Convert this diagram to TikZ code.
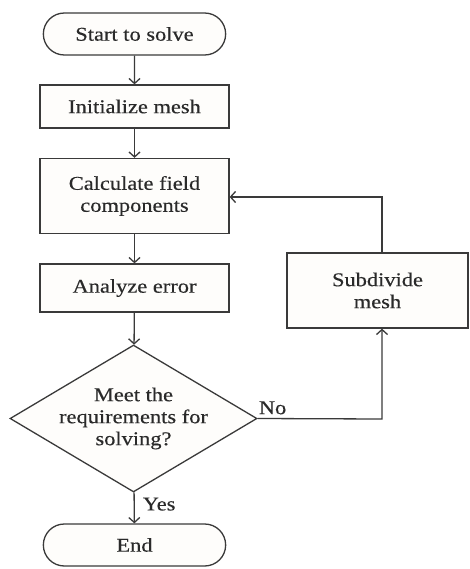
\documentclass[tikz,border=0pt]{standalone}
\usepackage{fontspec}
\setmainfont{Liberation Serif}[FakeStretch=1.15,FakeBold=0.35]
\usetikzlibrary{shapes.geometric,shapes.misc,arrows.meta}
\definecolor{ln}{HTML}{3A3A3A}
\definecolor{bx}{HTML}{FEFDFB}
\definecolor{tx}{HTML}{2A2A2A}
\begin{document}
\begin{tikzpicture}[x=1pt,y=-1pt,
  fnt/.style={font=\fontsize{19.5}{22}\selectfont,text=tx},
  base/.style={draw=ln,line width=1.3pt,fill=bx,fnt,align=center},
  proc/.style={base,rectangle,minimum width=189pt},
  term/.style={base,rounded rectangle,minimum width=189pt,minimum height=42pt},
  dec/.style={base,diamond,minimum width=247pt,minimum height=147pt,inner sep=0pt},
  arr/.style={draw=ln,line width=1.3pt,-{Straight Barb[length=5pt,width=11pt]}},
  lab/.style={fnt}]
\useasboundingbox (0,0) rectangle (469,569);
\node[term] (start) at (134.5,34) {Start to solve};
\node[proc,minimum height=43pt] (init) at (134.5,106.5) {Initialize mesh};
\node[proc,minimum height=75pt] (calc) at (134.5,196) {Calculate field\\components};
\node[proc,minimum height=48pt] (anal) at (134.5,288) {Analyze error};
\node[dec,label={[fnt,align=center]center:Meet the\\requirements for\\solving?}] (dec) at (133.5,418.5) {};
\node[term] (end) at (134.5,545) {End};
\node[proc,minimum width=181pt,minimum height=75pt] (sub) at (377.5,290.5) {Subdivide\\mesh};
\coordinate (c1) at (382,419);
\coordinate (c2) at (382,197);
\draw[arr] (start) -- (init);
\draw[arr] (init) -- (calc);
\draw[arr] (calc) -- (anal);
\draw[arr] (anal) -- (dec);
\draw[arr] (dec) -- node[lab,right,pos=0.38,inner sep=3pt,xshift=5pt] {Yes} (end);
\draw[arr] (dec.east) -- (c1) -- (c1 |- sub.south);
\node[lab,anchor=south west,inner sep=1pt,yshift=3pt] (no) at (dec.east) {No};
\draw[arr] (c2 |- sub.north) -- (c2) -- (calc.east |- c2);
\end{tikzpicture}
\end{document}
